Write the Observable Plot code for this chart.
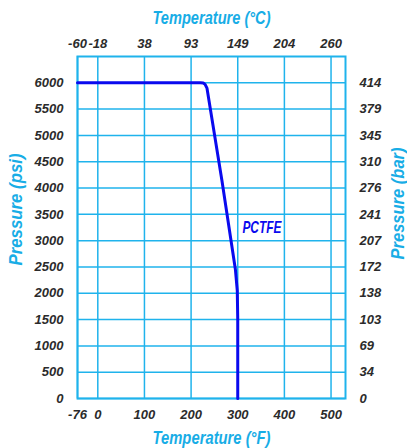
<!DOCTYPE html>
<html>
<head>
<meta charset="utf-8">
<script src="https://cdn.jsdelivr.net/npm/d3@7"></script>
<script src="https://cdn.jsdelivr.net/npm/@observablehq/plot@0.6"></script>
<style>
  body { margin: 0; background: #fff; }
</style>
</head>
<body>
<div id="chart"></div>
<script>
// Tick values
const fTicks = [-76, 0, 100, 200, 300, 400, 500];
const cLabels = ["-60", "-18", "38", "93", "149", "204", "260"];
const psiTicks = [0, 500, 1000, 1500, 2000, 2500, 3000, 3500, 4000, 4500, 5000, 5500, 6000];
const barLabels = ["0", "34", "69", "103", "138", "172", "207", "241", "276", "310", "345", "379", "414"];

// PCTFE curve (temperature °F, pressure psi)
const tempF = [-76, 220, 226, 230, 234, 266, 295, 299, 300, 300];
const psi   = [6000, 6000, 5995, 5970, 5900, 4150, 2450, 2050, 1500, 0];
const seriesName = "PCTFE";
const labelAt = {x: 310, y: 3250};

const curve = tempF.map((t, i) => ({t, p: psi[i]}));
const cMap = new Map(fTicks.map((f, i) => [f, cLabels[i]]));
const barMap = new Map(psiTicks.map((p, i) => [p, barLabels[i]]));

const cyan = "#1fb3ec";
const titleCol = "#18ade6";
const ink = "#2b2b2b";
const blue = "#0a0aee";
const font = "'Liberation Sans', Arial, sans-serif";

const W = 407, H = 448, mL = 77, mR = 62, mT = 56, mB = 50;

const titleStyle = {fill: titleCol, fontSize: 19, textAnchor: "middle", lineAnchor: "middle", className: "ctitle"};

const chart = Plot.plot({
  width: W,
  height: H,
  marginLeft: mL,
  marginRight: mR,
  marginTop: mT,
  marginBottom: mB,
  style: {fontFamily: font, fontSize: "13px", fontWeight: "bold", fontStyle: "italic", background: "#fff", color: ink},
  x: {type: "linear", domain: [-76, 0, 531], range: [mL, 97.3, W - mR]},
  y: {domain: [0, 6500]},
  marks: [
    Plot.gridX(fTicks, {stroke: cyan, strokeOpacity: 1, strokeWidth: 1.5}),
    Plot.gridY(psiTicks, {stroke: cyan, strokeOpacity: 1, strokeWidth: 1.5}),
    Plot.frame({stroke: cyan, strokeWidth: 2}),
    Plot.axisX(fTicks, {anchor: "bottom", tickSize: 0, tickPadding: 11, label: null, fill: ink, tickFormat: d => String(d)}),
    Plot.axisX(fTicks, {anchor: "top", tickSize: 0, tickPadding: 9, label: null, fill: ink, tickFormat: d => cMap.get(d)}),
    Plot.axisY(psiTicks, {anchor: "left", tickSize: 0, tickPadding: 14, label: null, fill: ink, tickFormat: d => String(d)}),
    Plot.axisY(psiTicks, {anchor: "right", tickSize: 0, tickPadding: 14, label: null, fill: ink, tickFormat: d => barMap.get(d)}),
    Plot.line(curve, {x: "t", y: "p", stroke: blue, strokeWidth: 3, strokeLinejoin: "round"}),
    Plot.text([seriesName], {x: () => labelAt.x, y: () => labelAt.y, text: d => d, textAnchor: "start", fill: blue, fontSize: 16.5, className: "slabel"}),
    Plot.text(["Temperature (°C)"], {frameAnchor: "top", dy: -39, text: d => d, ...titleStyle}),
    Plot.text(["Temperature (°F)"], {frameAnchor: "bottom", dy: 39, text: d => d, ...titleStyle}),
    Plot.text(["Pressure (psi)"], {frameAnchor: "left", dx: -62, dy: -18, rotate: -90, text: d => d, ...titleStyle}),
    Plot.text(["Pressure (bar)"], {frameAnchor: "right", dx: 52, dy: -24, rotate: -90, text: d => d, ...titleStyle})
  ]
});
// condensed look: squeeze title glyphs to the reference widths
d3.select(chart).selectAll(".ctitle text").each(function() {
  const t = this.textContent;
  const len = t.startsWith("Pressure") ? 112 : 118;
  d3.select(this).attr("textLength", len).attr("lengthAdjust", "spacingAndGlyphs");
});
d3.select(chart).selectAll(".slabel text").attr("textLength", 39).attr("lengthAdjust", "spacingAndGlyphs");
document.getElementById("chart").appendChild(chart);
</script>
</body>
</html>
